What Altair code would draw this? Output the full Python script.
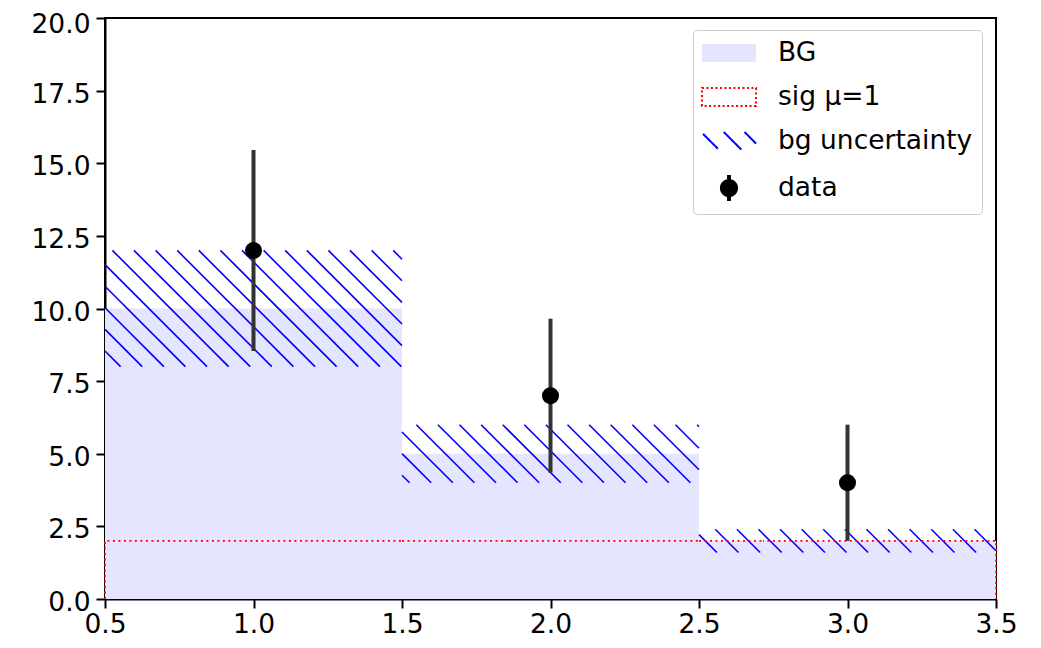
import altair as alt
import numpy as np
import pandas as pd

# ---- data ----
bin_edges = [0.5, 1.5, 2.5, 3.5]
bg_values = [10.0, 5.0, 2.0]
bg_unc = [2.0, 1.0, 0.4]
sig_values = [2.0, 2.0, 2.0]
data_x = [1.0, 2.0, 3.0]
data_y = [12.0, 7.0, 4.0]
data_err = [3.46, 2.65, 2.0]
x_ticks = [0.5, 1.0, 1.5, 2.0, 2.5, 3.0, 3.5]
y_ticks = [0.0, 2.5, 5.0, 7.5, 10.0, 12.5, 15.0, 17.5, 20.0]
series = ["BG", "sig μ=1", "bg uncertainty", "data"]

# ---- layout ----
W, H = 891, 581
X_DOM = [0.5, 3.5]
Y_DOM = [0.0, 20.0]
FONT = "DejaVu Sans"
FS = 26.5
HATCH_SPACING = 21.6
HATCH_PHASE = 9.0

xs = alt.Scale(domain=X_DOM, nice=False, zero=False)
ys = alt.Scale(domain=Y_DOM, nice=False)

# BG histogram
bg_df = pd.DataFrame({
    "lo": bin_edges[:-1], "hi": bin_edges[1:], "bg": bg_values,
    "zero": [0.0] * len(bg_values),
})
bg_layer = alt.Chart(bg_df).mark_rect(fill="#e5e5ff", strokeWidth=0).encode(
    x=alt.X("lo:Q", scale=xs, axis=alt.Axis(values=x_ticks, format=".1f", title=None,
                                             labelPadding=3)),
    x2="hi:Q",
    y=alt.Y("zero:Q", scale=ys, axis=alt.Axis(
        values=y_ticks, format=".1f", title=None, labelBaseline="alphabetic",
        labelOffset={"condition": {"test": "datum.value >= 20", "value": 14.6}, "value": 11.5},
        labelPadding=6)),
    y2="bg:Q",
)

# hatch segments for the uncertainty band (computed from band limits)
def to_px_x(v):
    return (v - X_DOM[0]) / (X_DOM[1] - X_DOM[0]) * W

def to_px_y(v):
    return (Y_DOM[1] - v) / (Y_DOM[1] - Y_DOM[0]) * H

def from_px_x(p):
    return X_DOM[0] + p / W * (X_DOM[1] - X_DOM[0])

def from_px_y(p):
    return Y_DOM[1] - p / H * (Y_DOM[1] - Y_DOM[0])

segs = []
for lo, hi, b, u in zip(bin_edges[:-1], bin_edges[1:], bg_values, bg_unc):
    xa, xb = to_px_x(lo), to_px_x(hi)
    yt, yb = to_px_y(b + u), to_px_y(b - u)
    cmin, cmax = yt - xb, yb - xa
    k0 = int(np.floor((cmin - HATCH_PHASE) / HATCH_SPACING))
    k1 = int(np.ceil((cmax - HATCH_PHASE) / HATCH_SPACING))
    for k in range(k0, k1 + 1):
        c = HATCH_PHASE + k * HATCH_SPACING
        x0 = max(xa, yt - c)
        x1 = min(xb, yb - c)
        if x1 - x0 <= 0.5:
            continue
        segs.append({
            "x": from_px_x(x0), "y": from_px_y(x0 + c),
            "x2": from_px_x(x1), "y2": from_px_y(x1 + c),
        })
hatch_df = pd.DataFrame(segs)
hatch_layer = alt.Chart(hatch_df).mark_rule(color="blue", strokeWidth=1.6).encode(
    x=alt.X("x:Q", scale=xs), y=alt.Y("y:Q", scale=ys), x2="x2:Q", y2="y2:Q"
)

# signal step outline
sx, sy = [bin_edges[0]], [0.0]
for lo, hi, s in zip(bin_edges[:-1], bin_edges[1:], sig_values):
    sx += [lo, hi]
    sy += [s, s]
sx.append(bin_edges[-1])
sy.append(0.0)
sig_df = pd.DataFrame({"x": sx, "y": sy, "o": list(range(len(sx)))})
sig_layer = alt.Chart(sig_df).mark_line(color="red", strokeWidth=1.8, strokeDash=[2, 3.5]).encode(
    x=alt.X("x:Q", scale=xs), y=alt.Y("y:Q", scale=ys), order="o:Q"
)

# data with error bars
d_df = pd.DataFrame({
    "x": data_x, "y": data_y,
    "lo": [v - e for v, e in zip(data_y, data_err)],
    "hi": [v + e for v, e in zip(data_y, data_err)],
})
err_layer = alt.Chart(d_df).mark_rule(color="#333333", strokeWidth=4).encode(
    x=alt.X("x:Q", scale=xs), y=alt.Y("lo:Q", scale=ys), y2="hi:Q"
)
pt_layer = alt.Chart(d_df).mark_point(filled=True, color="black", size=290, opacity=1).encode(
    x=alt.X("x:Q", scale=xs), y=alt.Y("y:Q", scale=ys)
)

# legend (dummy layer, custom symbols)
rect_path = "M-2.08,-0.69H2.08V0.69H-2.08Z"
hatch_path = "M-2.0,-0.55L-0.85,0.6M-0.4,-0.69L0.95,0.66M1.2,-0.69L2.08,0.2"
data_path = ("M-0.15,-1H0.15V1H-0.15Z"
             "M0.7,0A0.7,0.7 0 1,1 -0.7,0A0.7,0.7 0 1,1 0.7,0Z")
leg_df = pd.DataFrame({"series": series})
legend = alt.Legend(
    title=None, orient="none", legendX=588, legendY=12, padding=9,
    fillColor="white", strokeColor="#cccccc", cornerRadius=4,
    symbolSize=676, symbolOffset=13, labelOffset=35, rowPadding=16,
    symbolStrokeWidth=2, symbolOpacity=1, labelFont=FONT, labelFontSize=FS,
    labelColor="black", labelLimit=400,
)
leg_layer = alt.Chart(leg_df).mark_point(opacity=0).encode(
    fill=alt.Fill("series:N", scale=alt.Scale(domain=series,
                  range=["#e5e5ff", "transparent", "transparent", "black"]), legend=legend),
    stroke=alt.Stroke("series:N", scale=alt.Scale(domain=series,
                      range=["transparent", "red", "blue", "transparent"]), legend=legend),
    shape=alt.Shape("series:N", scale=alt.Scale(domain=series,
                    range=[rect_path, rect_path, hatch_path, data_path]), legend=legend),
    strokeDash=alt.StrokeDash("series:N", scale=alt.Scale(domain=series,
                              range=[[1, 0], [2, 2.5], [1, 0], [1, 0]]), legend=legend),
)

chart = alt.layer(
    bg_layer, hatch_layer, sig_layer, err_layer, pt_layer, leg_layer
).properties(
    width=W, height=H,
    autosize=alt.AutoSizeParams(type="none"),
    padding={"left": 97, "top": 10, "right": 30, "bottom": 40},
).configure_view(
    stroke="black", strokeWidth=2
).configure_axis(
    labelFont=FONT, labelFontSize=FS, labelColor="black", labelFlush=False,
    labelOverlap=False, tickSize=9, tickWidth=2, tickColor="black",
    domainColor="black", domainWidth=2, grid=False,
)

chart.save("out.html", embed_options={"renderer": "svg", "actions": False})
